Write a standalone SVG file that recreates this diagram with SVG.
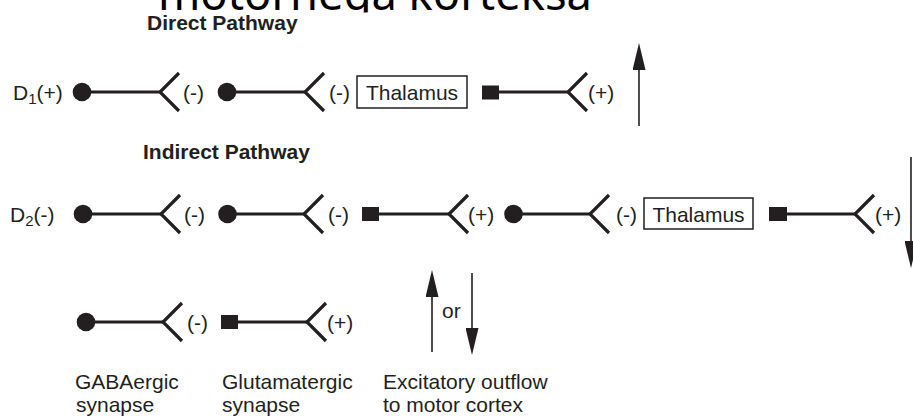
<svg xmlns="http://www.w3.org/2000/svg" width="913" height="417" viewBox="0 0 913 417">
<style>
.t{font-family:"Liberation Sans",Arial,sans-serif;font-size:21px;fill:#231f20}
.b{font-family:"Liberation Sans",Arial,sans-serif;font-size:21px;font-weight:bold;fill:#231f20}
.ln{stroke:#231f20;stroke-width:3;fill:none}
.fk{stroke:#231f20;stroke-width:3.2;fill:none;stroke-linejoin:miter}
.dot{fill:#231f20}
.box{fill:none;stroke:#231f20;stroke-width:1.5}
.ar{stroke:#231f20;stroke-width:1.6;fill:none}
</style>
<defs>
<clipPath id="topclip"><rect x="0" y="-60" width="913" height="72.5"/></clipPath>
<marker id="ah" viewBox="0 0 27 13" refX="17" refY="6.5" markerWidth="27" markerHeight="13" orient="auto" markerUnits="userSpaceOnUse">
<path d="M0,0 L27,6.5 L0,13 Z" fill="#231f20"/>
</marker>
</defs>
<rect width="913" height="417" fill="#fff"/>
<g id="page-title" clip-path="url(#topclip)">
<text x="158" y="9.5" font-family="'Noto Sans','Open Sans',sans-serif" font-size="46" fill="#000" textLength="434" lengthAdjust="spacingAndGlyphs">motornega korteksa</text>
</g>
<g id="title-direct"><text class="b" x="147" y="30">Direct Pathway</text></g>
<g id="title-indirect"><text class="b" x="143" y="159">Indirect Pathway</text></g>

<g id="d1"><text class="t" x="13" y="100">D<tspan font-size="15" dy="4">1</tspan><tspan dy="-4">(+)</tspan></text></g>
<g id="r1-s1"><text class="t" x="183" y="100">(-)</text></g>
<g id="r1-s2"><text class="t" x="329" y="100">(-)</text></g>
<g id="thalamus-1"><rect class="box" x="357" y="76" width="110" height="32"/><text class="t" x="412" y="100" text-anchor="middle">Thalamus</text></g>
<g id="r1-s3"><text class="t" x="588" y="100">(+)</text></g>

<g id="d2"><text class="t" x="10" y="222">D<tspan font-size="15" dy="4">2</tspan><tspan dy="-4">(-)</tspan></text></g>
<g id="r2-s1"><text class="t" x="184" y="222">(-)</text></g>
<g id="r2-s2"><text class="t" x="328" y="222">(-)</text></g>
<g id="r2-s3"><text class="t" x="468" y="222">(+)</text></g>
<g id="r2-s4"><text class="t" x="616" y="222">(-)</text></g>
<g id="thalamus-2"><rect class="box" x="644" y="198" width="109" height="31"/><text class="t" x="698.5" y="222" text-anchor="middle">Thalamus</text></g>
<g id="r2-s5"><text class="t" x="875" y="222">(+)</text></g>

<g id="legend-gaba"><text class="t" x="187" y="330">(-)</text><text class="t" x="75" y="389">GABAergic</text><text class="t" x="76" y="412">synapse</text></g>
<g id="legend-glu"><text class="t" x="327" y="330">(+)</text><text class="t" x="222" y="389">Glutamatergic</text><text class="t" x="222" y="412">synapse</text></g>
<g id="legend-out"><text class="t" x="442" y="318">or</text><text class="t" x="383" y="389">Excitatory outflow</text><text class="t" x="383" y="412">to motor cortex</text></g>

<g id="connectors">
<!-- row 1 -->
<circle class="dot" cx="82" cy="92" r="9.3"/><path class="ln" d="M82,92 H160"/><path class="fk" d="M179,73 L160,92 L179,111"/>
<circle class="dot" cx="227" cy="92" r="9.3"/><path class="ln" d="M227,92 H305"/><path class="fk" d="M324,73 L305,92 L324,111"/>
<rect class="dot" x="482" y="85.5" width="17" height="14"/><path class="ln" d="M499,92 H568"/><path class="fk" d="M587,73 L568,92 L587,111"/>
<path class="ar" d="M639,126 V53" marker-end="url(#ah)"/>
<!-- row 2 -->
<circle class="dot" cx="83" cy="214" r="9.3"/><path class="ln" d="M83,214 H161"/><path class="fk" d="M180,195 L161,214 L180,233"/>
<circle class="dot" cx="227.5" cy="214" r="9.3"/><path class="ln" d="M227,214 H304"/><path class="fk" d="M323,195 L304,214 L323,233"/>
<rect class="dot" x="362" y="207" width="17" height="14"/><path class="ln" d="M379,214 H449"/><path class="fk" d="M468,195 L449,214 L468,233"/>
<circle class="dot" cx="513.5" cy="214" r="9.3"/><path class="ln" d="M513,214 H590"/><path class="fk" d="M609,195 L590,214 L609,233"/>
<rect class="dot" x="769" y="207" width="18" height="14"/><path class="ln" d="M787,214 H855"/><path class="fk" d="M874,195 L855,214 L874,233"/>
<path class="ar" d="M911,157 V258" marker-end="url(#ah)"/>
<!-- legend -->
<circle class="dot" cx="86" cy="322" r="9.3"/><path class="ln" d="M86,322 H163"/><path class="fk" d="M182,303 L163,322 L182,341"/>
<rect class="dot" x="221" y="315" width="17" height="14"/><path class="ln" d="M238,322 H307"/><path class="fk" d="M326,303 L307,322 L326,341"/>
<path class="ar" d="M432,352 V280" marker-end="url(#ah)"/>
<path class="ar" d="M472,273 V345" marker-end="url(#ah)"/>
</g>
</svg>
